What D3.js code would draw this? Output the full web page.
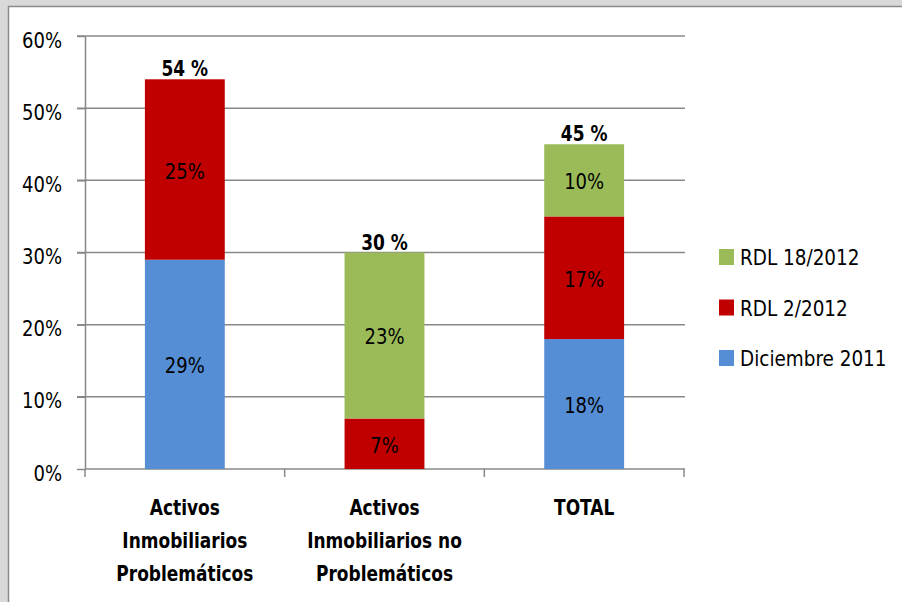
<!DOCTYPE html>
<html>
<head>
<meta charset="utf-8">
<script src="https://cdn.jsdelivr.net/npm/d3@7"></script>
<style>
  body { margin: 0; background: #d9d9d9; }
  svg text { font-family: "DejaVu Sans Condensed", "DejaVu Sans", sans-serif; fill: #000; }
</style>
</head>
<body>
<div class="container"></div>
<script>
const W = 902, H = 602;
const MARGIN = {left: 85, top: 36, right: 218, bottom: 133};
const SX = 0.91;      // narrow the regular text a bit
const SX_BOLD = 0.86; // and the bold text a bit more

// data
const categories = ["Activos Inmobiliarios Problemáticos", "Activos Inmobiliarios no Problemáticos", "TOTAL"];
const catLines = [["Activos", "Inmobiliarios", "Problemáticos"], ["Activos", "Inmobiliarios no", "Problemáticos"], ["TOTAL"]];
const seriesNames = ["Diciembre 2011", "RDL 2/2012", "RDL 18/2012"];
const dic2011 = [29, 0, 18];
const rdl2_2012 = [25, 7, 17];
const rdl18_2012 = [0, 23, 10];
const totals = [54, 30, 45];
const yTicks = [0, 10, 20, 30, 40, 50, 60];
const colors = ["#558ed5", "#c00000", "#9bbb59"];

// move x/y into a transform so the glyphs can be squeezed horizontally
var squish = function(sel, sx){
    sel.each(function(){
        var t = d3.select(this);
        var tx = +t.attr("x") || 0, ty = +t.attr("y") || 0;
        t.attr("x", 0).attr("y", 0)
         .attr("transform", "translate(" + tx + "," + ty + ") scale(" + sx + ",1)");
    });
}

var draw = function(){
    var svg = d3.select(".container").append("svg")
        .attr("width", W)
        .attr("height", H);

    // chart frame
    svg.append("rect").attr("x", 0).attr("y", 0).attr("width", W).attr("height", H).attr("fill", "#d9d9d9");
    svg.append("rect").attr("x", 8).attr("y", 6).attr("width", W).attr("height", H).attr("fill", "#fff");
    svg.append("path").attr("d", "M8.5," + H + "V6.5H" + W).attr("fill", "none").attr("stroke", "#8c8c8c").attr("stroke-width", 1.5);

    var x = d3.scaleBand()
        .domain(categories)
        .range([MARGIN.left, W - MARGIN.right])
        .paddingInner(0.6)
        .paddingOuter(0.3);
    var y = d3.scaleLinear()
        .domain([0, 60])
        .range([H - MARGIN.bottom, MARGIN.top]);

    var rows = categories.map(function(c, i){
        return {cat: c, "Diciembre 2011": dic2011[i], "RDL 2/2012": rdl2_2012[i], "RDL 18/2012": rdl18_2012[i], total: totals[i], lines: catLines[i]};
    });

    // gridlines
    svg.append("g")
        .selectAll("line")
        .data(yTicks.slice(1))
        .join("line")
        .attr("x1", MARGIN.left - 8)
        .attr("x2", W - MARGIN.right + 1)
        .attr("y1", d => y(d))
        .attr("y2", d => y(d))
        .attr("stroke", "#888")
        .attr("stroke-width", 1.5);

    // y axis
    var yAxis = svg.append("g")
        .attr("transform", "translate(" + MARGIN.left + ",0)")
        .call(d3.axisLeft(y).tickValues(yTicks).tickFormat(d => d + "%").tickSize(8).tickSizeOuter(0));
    yAxis.select(".domain").attr("stroke", "#888").attr("stroke-width", 1.5);
    yAxis.selectAll(".tick line").attr("stroke", "#888").attr("stroke-width", 1.5);
    yAxis.selectAll(".tick text")
        .attr("x", -23)
        .attr("y", 11)
        .attr("dy", null)
        .style("font-size", "22px")
        .style("font-family", null)
        .call(squish, SX);

    // x axis
    var xAxis = svg.append("g")
        .attr("transform", "translate(0," + y(0) + ")");
    xAxis.append("line")
        .attr("x1", MARGIN.left).attr("x2", W - MARGIN.right + 1)
        .attr("stroke", "#888").attr("stroke-width", 1.5);
    var step = x.step();
    var edges = [MARGIN.left].concat(categories.map(c => x(c) + x.bandwidth() / 2 + step / 2));
    xAxis.selectAll(".xtick")
        .data(edges)
        .join("line")
        .attr("class", "xtick")
        .attr("x1", d => d).attr("x2", d => d)
        .attr("y1", 0).attr("y2", 8)
        .attr("stroke", "#888").attr("stroke-width", 1.5);

    // bars
    var stack = d3.stack().keys(seriesNames);
    var layers = stack(rows);
    var layerG = svg.append("g")
        .selectAll("g")
        .data(layers)
        .join("g")
        .attr("fill", (d, i) => colors[i]);
    layerG.selectAll("rect")
        .data(d => d.filter(p => p[1] - p[0] > 0))
        .join("rect")
        .attr("x", d => x(d.data.cat))
        .attr("width", x.bandwidth())
        .attr("y", d => y(d[1]))
        .attr("height", d => y(d[0]) - y(d[1]));
    layerG.selectAll("text")
        .data(d => d.filter(p => p[1] - p[0] > 0))
        .join("text")
        .attr("x", d => x(d.data.cat) + x.bandwidth() / 2)
        .attr("y", d => (y(d[0]) + y(d[1])) / 2 + 9)
        .attr("text-anchor", "middle")
        .style("font-size", "22px")
        .text(d => (d[1] - d[0]) + "%")
        .call(squish, SX);

    // totals
    svg.append("g")
        .selectAll("text")
        .data(rows)
        .join("text")
        .attr("x", d => x(d.cat) + x.bandwidth() / 2)
        .attr("y", d => y(d.total) - 3)
        .attr("text-anchor", "middle")
        .style("font-size", "22px")
        .style("font-weight", "bold")
        .text(d => d.total + " %")
        .call(squish, SX_BOLD);

    // category labels
    var catG = svg.append("g")
        .selectAll("text")
        .data(rows)
        .join("text")
        .attr("text-anchor", "middle")
        .attr("transform", d => "translate(" + (x(d.cat) + x.bandwidth() / 2) + ",0) scale(" + SX_BOLD + ",1)")
        .style("font-size", "22px")
        .style("font-weight", "bold");
    catG.selectAll("tspan")
        .data(d => d.lines)
        .join("tspan")
        .attr("x", 0)
        .attr("y", (d, i) => y(0) + 46 + i * 33)
        .text(d => d);

    // legend
    var legendOrder = seriesNames.slice().reverse();
    var leg = svg.append("g")
        .attr("transform", "translate(719,249)")
        .selectAll("g")
        .data(legendOrder)
        .join("g")
        .attr("transform", (d, i) => "translate(0," + i * 50.5 + ")");
    leg.append("rect")
        .attr("width", 15)
        .attr("height", 16)
        .attr("fill", d => colors[seriesNames.indexOf(d)]);
    leg.append("text")
        .attr("x", 21)
        .attr("y", 16)
        .style("font-size", "22px")
        .text(d => d)
        .call(squish, 0.93);
}

window.onload = draw;
</script>
</body>
</html>
